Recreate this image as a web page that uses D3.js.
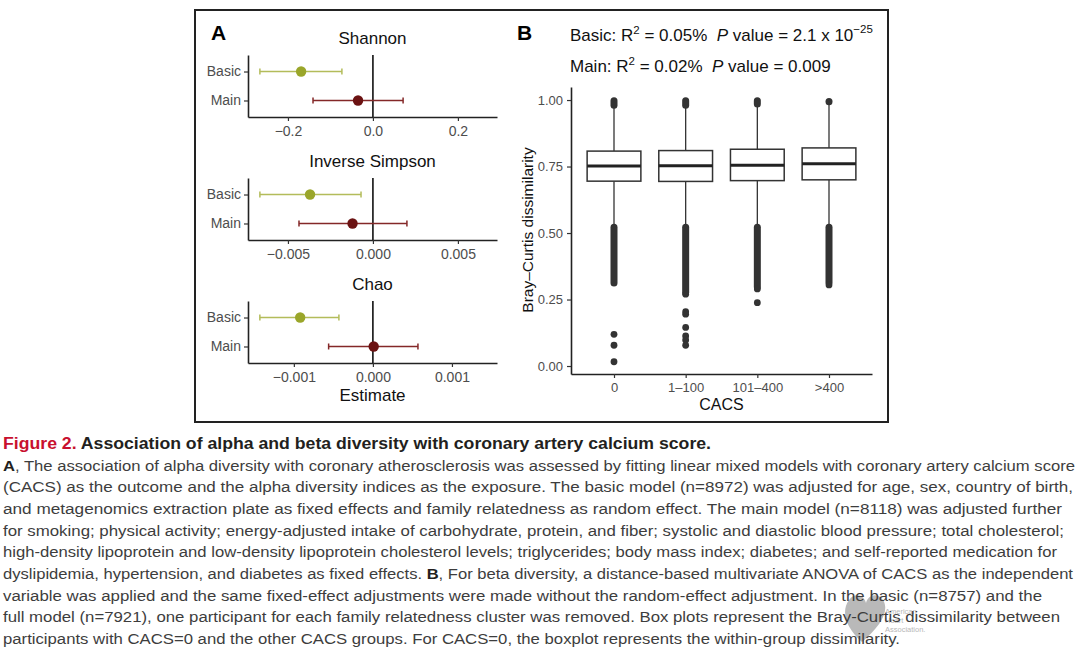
<!DOCTYPE html>
<html>
<head>
<meta charset="utf-8">
<script src="https://cdn.jsdelivr.net/npm/d3@7"></script>
<style>
  body { margin: 0; background: #fff; }
  text { font-family: "Liberation Sans", Arial, sans-serif; white-space: pre; }
</style>
</head>
<body>
<div id="chart"></div>
<script>
// panel A : alpha diversity estimates (Basic, Main)
var indices = ["Shannon", "Inverse Simpson", "Chao"];
var models = ["Basic", "Main"];
var shannonEst = [-0.169, -0.035];
var shannonLow = [-0.266, -0.141];
var shannonHigh = [-0.073, 0.071];
var simpsonEst = [-0.0037, -0.0012];
var simpsonLow = [-0.00665, -0.00435];
var simpsonHigh = [-0.0007, 0.0020];
var chaoEst = [-0.00092, 0.00001];
var chaoLow = [-0.00143, -0.00056];
var chaoHigh = [-0.00043, 0.00057];
var shannonTicks = [-0.2, 0, 0.2];
var simpsonTicks = [-0.005, 0, 0.005];
var chaoTicks = [-0.001, 0, 0.001];
var shannonDomain = [-0.294, 0.292];
var simpsonDomain = [-0.00735, 0.0073];
var chaoDomain = [-0.00158, 0.00157];

// panel B : Bray-Curtis boxplots by CACS group
var cacsGroups = ["0", "1\u2013100", "101\u2013400", ">400"];
var boxQ1 = [0.695, 0.694, 0.697, 0.700];
var boxMedian = [0.752, 0.753, 0.755, 0.760];
var boxQ3 = [0.808, 0.810, 0.815, 0.820];
var whiskerLow = [0.53, 0.53, 0.53, 0.53];
var whiskerHigh = [0.978, 0.980, 0.985, 0.985];
// dense runs of outliers (too many points to tell apart)
var denseLowFrom = [0.312, 0.276, 0.297, 0.314];
var denseLowTo = [0.522, 0.522, 0.522, 0.522];
var denseHighFrom = [0.980, 0.980, 0.985, 0.994];
var denseHighTo = [0.997, 0.997, 0.997, 0.994];
// single outliers below the dense runs
var outlier0 = [0.119, 0.078, 0.016];
var outlier1 = [0.270, 0.204, 0.195, 0.145, 0.113, 0.098, 0.078];
var outlier2 = [0.290, 0.238];
var outlier3 = [0.305];
var yTicksB = [0, 0.25, 0.5, 0.75, 1];

var captionLines = [
  [["Figure 2.", "red"], [" Association of alpha and beta diversity with coronary artery calcium score.", "title"]],
  [["A", "bold"], [", The association of alpha diversity with coronary atherosclerosis was assessed by fitting linear mixed models with coronary artery calcium score", ""]],
  [["(CACS) as the outcome and the alpha diversity indices as the exposure. The basic model (n=8972) was adjusted for age, sex, country of birth,", ""]],
  [["and metagenomics extraction plate as fixed effects and family relatedness as random effect. The main model (n=8118) was adjusted further", ""]],
  [["for smoking; physical activity; energy-adjusted intake of carbohydrate, protein, and fiber; systolic and diastolic blood pressure; total cholesterol;", ""]],
  [["high-density lipoprotein and low-density lipoprotein cholesterol levels; triglycerides; body mass index; diabetes; and self-reported medication for", ""]],
  [["dyslipidemia, hypertension, and diabetes as fixed effects. ", ""], ["B", "bold"], [", For beta diversity, a distance-based multivariate ANOVA of CACS as the independent", ""]],
  [["variable was applied and the same fixed-effect adjustments were made without the random-effect adjustment. In the basic (n=8757) and the", ""]],
  [["full model (n=7921), one participant for each family relatedness cluster was removed. Box plots represent the Bray-Curtis dissimilarity between", ""]],
  [["participants with CACS=0 and the other CACS groups. For CACS=0, the boxplot represents the within-group dissimilarity.", ""]]
];
var captionEnds = [711, 1075, 1073, 1062, 1064, 1057, 1073, 1042, 1060, 900];

var width = 1080, height = 658;
var svg = d3.select("#chart").append("svg")
  .attr("width", width).attr("height", height);
svg.append("rect").attr("width", width).attr("height", height).attr("fill", "#fff");

// frame round both panels
svg.append("rect")
  .attr("x", 195).attr("y", 10).attr("width", 693).attr("height", 412)
  .attr("fill", "none").attr("stroke", "#222").attr("stroke-width", 2);

//----- panel A
svg.append("text").attr("x", 211).attr("y", 40)
  .attr("font-size", 21).attr("font-weight", "bold").text("A");

var facets = [
  { name: indices[0], est: shannonEst, low: shannonLow, high: shannonHigh, ticks: shannonTicks, domain: shannonDomain, fmt: d3.format(".1f") },
  { name: indices[1], est: simpsonEst, low: simpsonLow, high: simpsonHigh, ticks: simpsonTicks, domain: simpsonDomain, fmt: d3.format(".3f") },
  { name: indices[2], est: chaoEst, low: chaoLow, high: chaoHigh, ticks: chaoTicks, domain: chaoDomain, fmt: d3.format(".3f") }
];
var pointCol = ["#9aa62a", "#6b1212"];
var lineCol = ["#b3bc5a", "#842828"];
var aLeft = 248, aRight = 497, aH = 62;

facets.forEach(function (f, i) {
  var top = 55 + i * 123;
  var x = d3.scaleLinear().domain(f.domain).range([aLeft, aRight]);
  var y = d3.scalePoint().domain(models).range([top, top + aH]).padding(0.57);
  var g = svg.append("g");

  g.append("text").attr("x", (aLeft + aRight) / 2).attr("y", top - 11)
    .attr("text-anchor", "middle").attr("font-size", 17).attr("fill", "#111").text(f.name);

  // zero line
  g.append("line").attr("x1", x(0)).attr("x2", x(0)).attr("y1", top).attr("y2", top + aH)
    .attr("stroke", "#000").attr("stroke-width", 1.5);

  var xa = g.append("g").attr("transform", "translate(0," + (top + aH) + ")")
    .call(d3.axisBottom(x).tickValues(f.ticks).tickFormat(f.fmt).tickSize(4).tickSizeOuter(0).tickPadding(5));
  var ya = g.append("g").attr("transform", "translate(" + aLeft + ",0)")
    .call(d3.axisLeft(y).tickSize(4).tickSizeOuter(0).tickPadding(3));
  [xa, ya].forEach(function (a) {
    a.select(".domain").attr("stroke", "#222").attr("stroke-width", 1.6);
    a.selectAll(".tick line").attr("stroke", "#333").attr("stroke-width", 1.2);
    a.selectAll("text").attr("font-family", "Liberation Sans, Arial, sans-serif")
      .attr("font-size", 14).attr("fill", "#4d4d4d");
  });

  // error bars
  models.forEach(function (m, j) {
    var yy = y(m);
    g.append("line").attr("x1", x(f.low[j])).attr("x2", x(f.high[j])).attr("y1", yy).attr("y2", yy)
      .attr("stroke", lineCol[j]).attr("stroke-width", 1.5);
    [f.low[j], f.high[j]].forEach(function (v) {
      g.append("line").attr("x1", x(v)).attr("x2", x(v)).attr("y1", yy - 3).attr("y2", yy + 3)
        .attr("stroke", lineCol[j]).attr("stroke-width", 1.5);
    });
    g.append("circle").attr("cx", x(f.est[j])).attr("cy", yy).attr("r", 5.2).attr("fill", pointCol[j]);
  });
});

svg.append("text").attr("x", (aLeft + aRight) / 2).attr("y", 401)
  .attr("text-anchor", "middle").attr("font-size", 17).attr("fill", "#111").text("Estimate");

//----- panel B
svg.append("text").attr("x", 517).attr("y", 40)
  .attr("font-size", 21).attr("font-weight", "bold").text("B");

function statLine(yPos, r2, pv, pexp) {
  var t = svg.append("text").attr("x", 570).attr("y", yPos).attr("font-size", 17).attr("fill", "#111");
  t.append("tspan").text(r2[0] + ": R");
  t.append("tspan").attr("font-size", 11.5).attr("dy", -7).text("2");
  t.append("tspan").attr("dy", 7).text(" = " + r2[1] + "  ");
  t.append("tspan").attr("font-style", "italic").text("P");
  t.append("tspan").text(" value = " + pv);
  if (pexp) t.append("tspan").attr("font-size", 11.5).attr("dy", -8).text(pexp);
}
statLine(41, ["Basic", "0.05%"], "2.1 x 10", "\u221225");
statLine(72, ["Main", "0.02%"], "0.009", null);

var bx = d3.scalePoint().domain(cacsGroups).range([571, 872]).padding(0.6);
var by = d3.scaleLinear().domain([-0.03, 1.049]).range([374, 87]);
var bw = bx.step() * 0.75;
var ink = "#333";

var bxa = svg.append("g").attr("transform", "translate(0,374)")
  .call(d3.axisBottom(bx).tickSize(4).tickSizeOuter(0).tickPadding(5));
var bya = svg.append("g").attr("transform", "translate(571,0)")
  .call(d3.axisLeft(by).tickValues(yTicksB).tickFormat(d3.format(".2f")).tickSize(4).tickSizeOuter(0).tickPadding(4));
[bxa, bya].forEach(function (a) {
  a.select(".domain").attr("stroke", "#222").attr("stroke-width", 1.6);
  a.selectAll(".tick line").attr("stroke", "#333").attr("stroke-width", 1.2);
  a.selectAll("text").attr("font-family", "Liberation Sans, Arial, sans-serif")
    .attr("font-size", 13).attr("fill", "#4d4d4d");
});

var outliers = [outlier0, outlier1, outlier2, outlier3];
var boxes = svg.append("g");
cacsGroups.forEach(function (c, i) {
  var cx = bx(c);
  // whiskers
  boxes.append("line").attr("x1", cx).attr("x2", cx).attr("y1", by(whiskerHigh[i])).attr("y2", by(boxQ3[i]))
    .attr("stroke", ink).attr("stroke-width", 1.3);
  boxes.append("line").attr("x1", cx).attr("x2", cx).attr("y1", by(boxQ1[i])).attr("y2", by(whiskerLow[i]))
    .attr("stroke", ink).attr("stroke-width", 1.3);
  // box
  boxes.append("rect").attr("x", cx - bw / 2).attr("y", by(boxQ3[i]))
    .attr("width", bw).attr("height", by(boxQ1[i]) - by(boxQ3[i]))
    .attr("fill", "#fff").attr("stroke", ink).attr("stroke-width", 1.5);
  boxes.append("line").attr("x1", cx - bw / 2).attr("x2", cx + bw / 2)
    .attr("y1", by(boxMedian[i])).attr("y2", by(boxMedian[i]))
    .attr("stroke", "#222").attr("stroke-width", 3);
  // dense outlier runs
  [[denseLowFrom[i], denseLowTo[i]], [denseHighFrom[i], denseHighTo[i]]].forEach(function (r) {
    boxes.append("line").attr("x1", cx).attr("x2", cx).attr("y1", by(r[0])).attr("y2", by(r[1]) - 0.01)
      .attr("stroke", ink).attr("stroke-width", 7).attr("stroke-linecap", "round");
  });
  boxes.selectAll(".out" + i).data(outliers[i]).enter().append("circle")
    .attr("cx", cx).attr("cy", d => by(d)).attr("r", 3.4).attr("fill", ink);
});

svg.append("text").attr("x", (571 + 872) / 2).attr("y", 410)
  .attr("text-anchor", "middle").attr("font-size", 16).attr("fill", "#111").text("CACS");
svg.append("text").attr("transform", "translate(533,230) rotate(-90)")
  .attr("text-anchor", "middle").attr("font-size", 15.5).attr("fill", "#111").text("Bray\u2013Curtis dissimilarity");

//----- caption
var cap = svg.append("g");
captionLines.forEach(function (parts, i) {
  var yPos = i == 0 ? 449 : 470.5 + (i - 1) * 21.7;
  var t = cap.append("text").attr("x", 3).attr("y", yPos)
    .attr("font-size", i == 0 ? 16 : 15.5)
    .attr("textLength", captionEnds[i] - 3).attr("lengthAdjust", "spacingAndGlyphs");
  parts.forEach(function (p) {
    var s = t.append("tspan").text(p[0]);
    if (p[1] == "red") s.attr("fill", "#c8102e").attr("font-weight", "bold");
    else if (p[1] == "title") s.attr("fill", "#231f20").attr("font-weight", "bold");
    else if (p[1] == "bold") s.attr("fill", "#231f20").attr("font-weight", "bold");
    else s.attr("fill", "#3d3d3d");
  });
});

// faint society watermark, drawn behind nothing else
var wm = svg.insert("g", "g").attr("opacity", 0.6);
wm.append("path")
  .attr("d", "M862,642 C845,627 841,611 849,600 C855,592 864,595 866,603 C868,595 877,592 883,600 C890,611 880,627 862,642 Z")
  .attr("fill", "#8c8c8c");
["American", "Heart", "Association."].forEach(function (w, i) {
  wm.append("text").attr("x", 885).attr("y", 614 + i * 9).attr("font-size", 7.5).attr("fill", "#888").text(w);
});
</script>
</body>
</html>
